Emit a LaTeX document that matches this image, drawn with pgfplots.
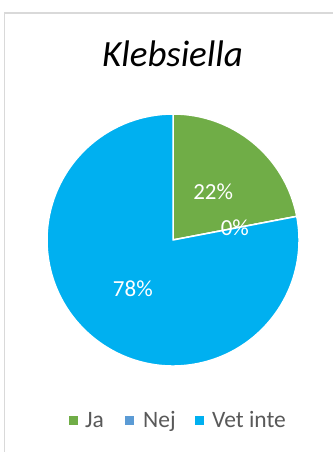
\documentclass[border=0pt]{standalone}
\usepackage{pgfplots}
\pgfplotsset{compat=1.18}
\usepackage{pgfplotstable}
\usepackage{fontspec}
\setmainfont{Carlito}
\definecolor{cja}{HTML}{70AD47}
\definecolor{cnej}{HTML}{5B9BD5}
\definecolor{cvet}{HTML}{00B0F0}
\definecolor{frame}{HTML}{D9D9D9}
\definecolor{legtext}{HTML}{595959}
\pgfplotstableread{
value color
22 cja
0 cnej
78 cvet
}\piedata
\newcommand\legfont{\fontsize{23.5pt}{28pt}\selectfont}
\begin{document}
\begin{tikzpicture}
\useasboundingbox (0,0) rectangle (333pt,452pt);
\fill[white] (0,0) rectangle (333pt,452pt);
\draw[frame, line width=1.5pt] (4.5pt,0) -- (4.5pt,439pt) -- (333pt,439pt);
\node[anchor=base, font=\fontsize{37pt}{44pt}\selectfont\itshape] at (172.5pt,385pt) {Klebsiella};
\begin{axis}[
  at={(173pt,212pt)}, anchor=center,
  width=252pt, height=252pt, scale only axis,
  xmin=-1, xmax=1, ymin=-1, ymax=1,
  hide axis, clip=false,
]
\pgfplotsextra{%
  \gdef\cumangle{90}%
  \def\R{126pt}%
  \foreach \i in {0,1,2}{%
    \pgfplotstablegetelem{\i}{value}\of\piedata \let\val\pgfplotsretval
    \pgfplotstablegetelem{\i}{color}\of\piedata \let\col\pgfplotsretval
    \pgfmathsetmacro\startA{\cumangle}%
    \pgfmathsetmacro\endA{\cumangle-3.6*\val}%
    \filldraw[fill=\col, draw=white, line width=1.5pt, line join=round]
      (axis cs:0,0) -- (axis cs:{cos(\startA)},{sin(\startA)})
      arc[start angle=\startA, end angle=\endA, radius=\R] -- cycle;
    \xdef\cumangle{\endA}%
  }%
  \gdef\cumangle{90}%
  \foreach \i in {0,1,2}{%
    \pgfplotstablegetelem{\i}{value}\of\piedata \let\val\pgfplotsretval
    \pgfmathsetmacro\startA{\cumangle}%
    \pgfmathsetmacro\endA{\cumangle-3.6*\val}%
    \pgfmathsetmacro\midA{(\startA+\endA)/2}%
    \node[text=white, font=\fontsize{23pt}{27pt}\selectfont]
      at (axis cs:{0.5*cos(\midA)},{0.5*sin(\midA)}) {\val\%};
    \xdef\cumangle{\endA}%
  }%
}
\end{axis}
% legend
\fill[cja]  (69pt,27pt) rectangle (78pt,36pt);
\node[anchor=base west, inner sep=0pt, text=legtext, font=\legfont] at (85pt,24pt) {Ja};
\fill[cnej] (125pt,27pt) rectangle (134pt,36pt);
\node[anchor=base west, inner sep=0pt, text=legtext, font=\legfont] at (143pt,24pt) {Nej};
\fill[cvet] (195pt,27pt) rectangle (204pt,36pt);
\node[anchor=base west, inner sep=0pt, text=legtext, font=\legfont] at (212pt,24pt) {Vet inte};
\end{tikzpicture}
\end{document}
